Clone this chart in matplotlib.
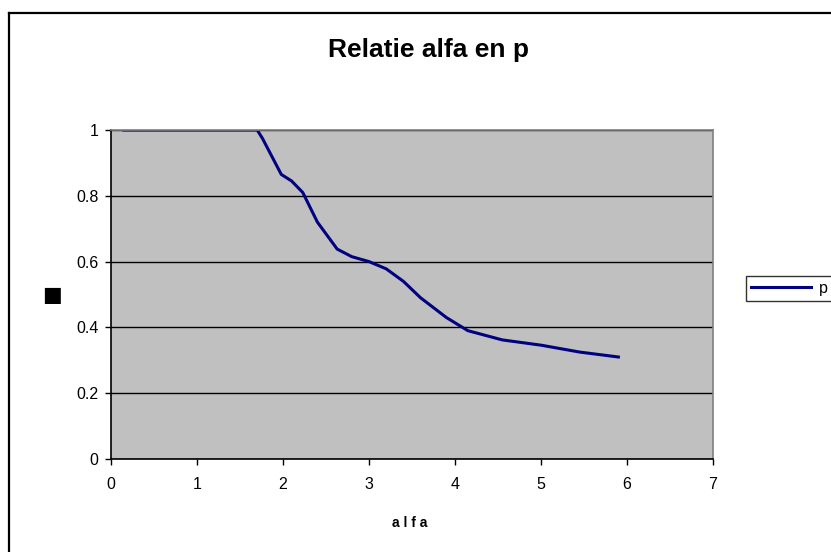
import matplotlib
matplotlib.use("Agg")
import matplotlib.pyplot as plt
from matplotlib.lines import Line2D

plt.rcParams['font.family'] = ['Liberation Sans', 'DejaVu Sans']

# Relation between alfa and p
alfa = [0.15, 1.6, 1.7, 1.76, 1.86, 1.98, 2.1, 2.23, 2.4, 2.63, 2.8, 3.0,
        3.2, 3.4, 3.6, 3.9, 4.15, 4.55, 5.0, 5.45, 5.9]
p = [1.0, 1.0, 1.0, 0.975, 0.925, 0.865, 0.845, 0.81, 0.72, 0.638, 0.615, 0.60,
     0.578, 0.54, 0.49, 0.43, 0.39, 0.362, 0.346, 0.325, 0.31]

x_ticks = [0, 1, 2, 3, 4, 5, 6, 7]
y_ticks = [0, 0.2, 0.4, 0.6, 0.8, 1.0]
y_tick_labels = ['0', '0.2', '0.4', '0.6', '0.8', '1']

fig = plt.figure(figsize=(8.31, 5.52), dpi=100)
fig.patch.set_facecolor('white')

# outer chart border (top and left edges visible)
fig.add_artist(Line2D([9 / 831, 1.0], [1 - 13 / 552, 1 - 13 / 552], transform=fig.transFigure,
                      color='black', lw=1.6, solid_capstyle='projecting'))
fig.add_artist(Line2D([9 / 831, 9 / 831], [0.0, 1 - 13 / 552], transform=fig.transFigure,
                      color='black', lw=1.6, solid_capstyle='projecting'))

ax = fig.add_axes([111 / 831, 1 - 459 / 552, (713 - 111) / 831, (459 - 130) / 552])
ax.set_facecolor('#C0C0C0')

ax.plot(alfa, p, color='#000080', lw=2.2, label='p', solid_joinstyle='round')

ax.set_xlim(0, 7)
ax.set_ylim(0, 1)
ax.set_xticks(x_ticks)
ax.set_xticklabels([str(t) for t in x_ticks])
ax.set_yticks(y_ticks)
ax.set_yticklabels(y_tick_labels)
ax.tick_params(axis='both', direction='out', length=4, width=1, labelsize=11.5,
               colors='black', pad=9)
ax.tick_params(axis='y', pad=5)

ax.grid(axis='y', color='black', lw=1)
ax.set_axisbelow(True)

for side in ('left', 'bottom'):
    ax.spines[side].set_color('black')
    ax.spines[side].set_linewidth(1.2)
for side in ('top', 'right'):
    ax.spines[side].set_color('#808080')
    ax.spines[side].set_linewidth(1.2)

fig.text(428 / 831, 1 - 50 / 552, 'Relatie alfa en p', ha='center', va='center',
         fontsize=19, fontweight='bold')
fig.text(410 / 831, 1 - 523 / 552, 'a l f a', ha='center', va='center',
         fontsize=10, fontweight='bold')
fig.text(52 / 831, 1 - 295 / 552, '\u25A0', ha='center', va='center',
         fontsize=15, family=['DejaVu Sans'])

leg = fig.legend(loc='upper left', bbox_to_anchor=(746 / 831, 1 - 276 / 552),
                 frameon=True, fancybox=False, fontsize=11.5, handlelength=3.8,
                 borderpad=0.3, handletextpad=0.45, borderaxespad=0)
leg.get_frame().set_edgecolor('black')
leg.get_frame().set_linewidth(1)

fig.savefig('out.png', dpi=100)
